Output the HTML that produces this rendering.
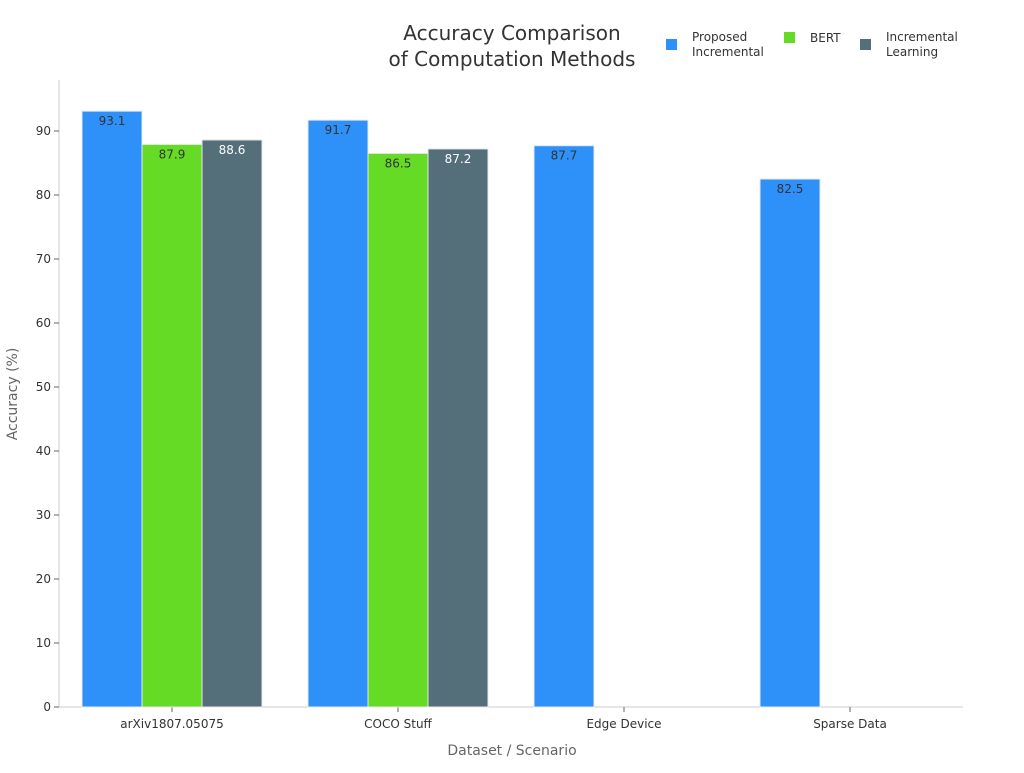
<!DOCTYPE html>
<html><head><meta charset="utf-8"><style>
body{margin:0;background:#fff;font-family:"Liberation Sans","DejaVu Sans",sans-serif}
svg text{font-family:"DejaVu Sans","Liberation Sans",sans-serif}
</style></head><body>
<svg id="chart" width="1024" height="768">
<text x="512" y="40" text-anchor="middle" font-size="20" fill="#333">Accuracy Comparison</text>
<text x="512" y="66" text-anchor="middle" font-size="20" fill="#333">of Computation Methods</text>
<g>
<rect x="666" y="39" width="11" height="11" fill="#2E91F9"/>
<text x="692" y="41" font-size="12" fill="#333"><tspan x="692">Proposed</tspan><tspan x="692" dy="15">Incremental</tspan></text>
<rect x="784" y="32" width="11" height="11" fill="#66DB26"/>
<text x="810" y="42" font-size="12" fill="#333">BERT</text>
<rect x="860" y="39" width="11" height="11" fill="#546E7A"/>
<text x="886" y="41" font-size="12" fill="#333"><tspan x="886">Incremental</tspan><tspan x="886" dy="15">Learning</tspan></text>
</g>
<g id="axes"></g>
<g id="bars"></g>
<text x="512" y="755" text-anchor="middle" font-size="14" fill="#666">Dataset / Scenario</text>
<text transform="translate(17,394) rotate(-90)" text-anchor="middle" font-size="14" fill="#666">Accuracy (%)</text>
</svg>
<script>
const categories=["arXiv1807.05075","COCO Stuff","Edge Device","Sparse Data"];
const proposed=[93.1,91.7,87.7,82.5];
const bert=[87.9,86.5,null,null];
const incremental=[88.6,87.2,null,null];
const yTicks=[0,10,20,30,40,50,60,70,80,90];
const NS="http://www.w3.org/2000/svg";
const x0=59,x1=963,y0=707,pxPer=6.4;
const y=v=>y0-v*pxPer;
const band=(x1-x0)/categories.length;
const cx=i=>x0+band*(i+0.5);
function mk(t,a,p){const e=document.createElementNS(NS,t);for(const k in a)e.setAttribute(k,a[k]);p.appendChild(e);return e;}
const ax=document.getElementById('axes'),bg=document.getElementById('bars');
const yl=mk('line',{x1:x0,y1:80,x2:x0,y2:y0,stroke:'#ccc'},ax);


const xl=mk('line',{x1:x0,y1:y0,x2:x1,y2:y0,stroke:'#ccc'},ax);


yTicks.forEach(v=>{
 mk('line',{x1:x0-5,y1:y(v),x2:x0,y2:y(v),stroke:'#666'},ax);
 const t=mk('text',{x:x0-8,y:y(v)+4,'text-anchor':'end','font-size':12,fill:'#333'},ax);
 t.textContent=v;
 
 
});
categories.forEach((c,i)=>{
 mk('line',{x1:cx(i),y1:y0,x2:cx(i),y2:y0+5,stroke:'#666'},ax);
 const t=mk('text',{x:cx(i),y:y0+21,'text-anchor':'middle','font-size':12,fill:'#333'},ax);
 t.textContent=c;
 
 
});
const series=[[proposed,'#2E91F9','#333','proposed'],[bert,'#66DB26','#333','bert'],[incremental,'#546E7A','#fff','incremental']];
series.forEach(([vals,col,tc,nm],s)=>{
 vals.forEach((v,i)=>{
  if(v==null)return;
  const bx=cx(i)+(s-1)*60-30;
  const r=mk('rect',{x:bx,y:y(v),width:60,height:y0-y(v),fill:col,stroke:'#e8e8e8','stroke-width':1},bg);
  
  
  const t=mk('text',{x:bx+30,y:y(v)+14,'text-anchor':'middle','font-size':12,fill:tc},bg);
  t.textContent=v.toFixed(1);
  
  
 });
});
</script>
</body></html>
